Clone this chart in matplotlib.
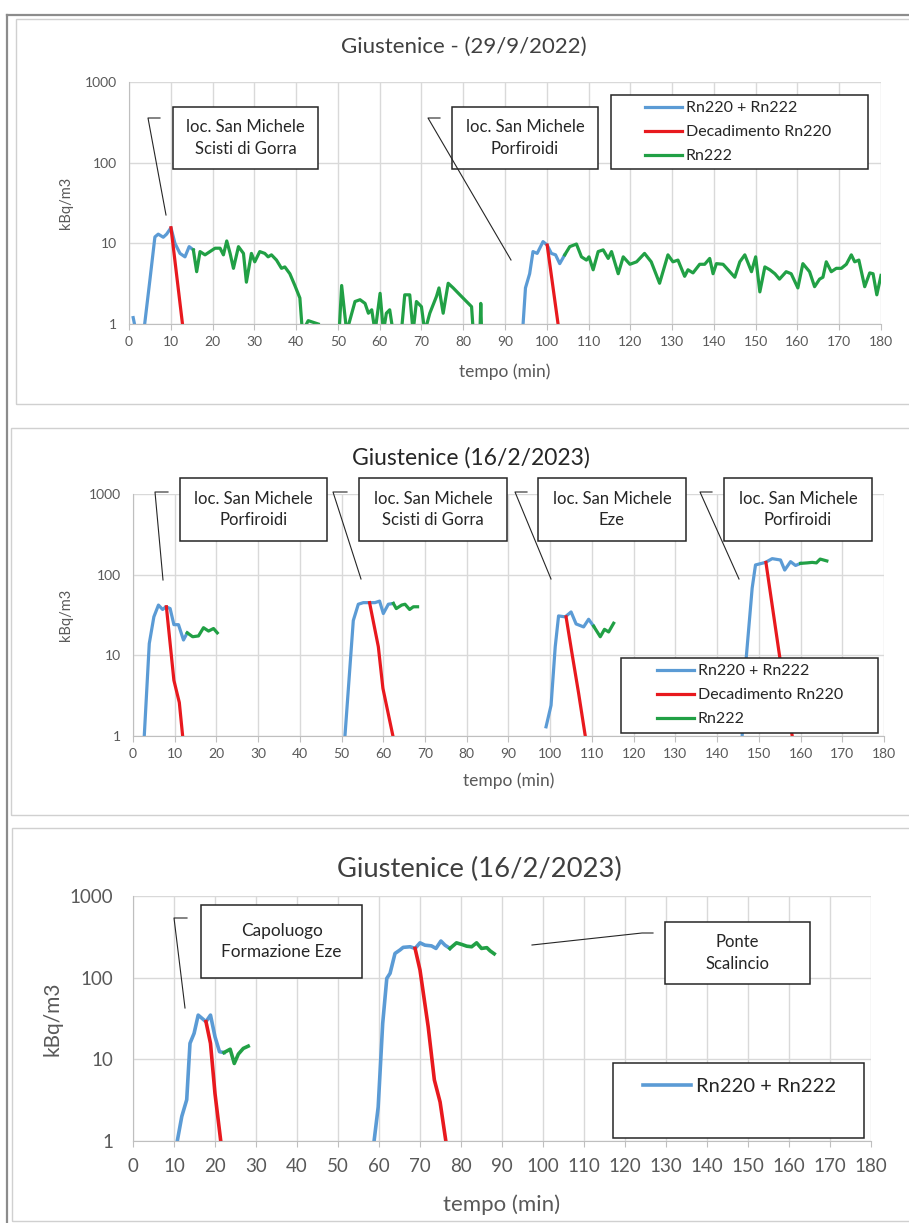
import matplotlib
matplotlib.use("Agg")
import matplotlib.pyplot as plt
from matplotlib.lines import Line2D
from matplotlib.patches import Rectangle
from matplotlib.ticker import FixedLocator, NullLocator
import numpy as np

nan = np.nan

# --- Giustenice 29/9/2022 ---
p1_mix_t = [1.0, 1.4, nan, 3.7, 5.0, 6.2, 7.0, 8.2, 9.0, 10.05, 11.0, 12.2, 13.4, 14.4, 15.4,
            nan, 94.3, 94.9, 95.9, 96.7, 97.7, 99.1, 100.1, 101.1, 102.1, 103.1, 104.3]
p1_mix_v = [1.2, 0.95, nan, 0.95, 3.5, 12, 13, 11.9, 13, 15.6, 10, 7.5, 6.8, 9.1, 8.3,
            nan, 0.95, 2.8, 4.2, 7.9, 7.5, 10.5, 9.5, 7.5, 7.2, 5.6, 7.2]
p1_decay_t = [10.05, 12.8, nan, 100.1, 102.7]
p1_decay_v = [15.6, 1.0, nan, 9.5, 1.0]
p1_rn222_t = [15.4, 16.2, 17.0, 18.2, 19.4, 20.6, 21.8, 22.6, 23.4, 24.2, 25.0, 26.2, 27.4, 28.1,
              29.3, 30.1, 31.3, 32.5, 33.3, 34.1, 35.3, 36.5, 37.3, 38.5, 39.7, 40.9, 41.5, 42.9,
              45.3, nan, 50.3, 50.9, 52.1, 54.1, 55.3, 56.5, 57.3, 58.1, 58.9, 60.1, 60.9, 61.6,
              62.4, 63.2, nan, 65.2, 66.0, 67.2, 68.0, 68.8, 70.0, 70.8, 72.0, 73.6, 74.2, 75.2,
              76.4, 77.6, 79.2, 80.8, 82.0, 82.4, nan, 84.0, 84.2, 84.4, nan,
              104.3, 105.5, 107.1, 108.3, 109.5, 110.1, 111.1, 112.3, 113.5, 114.7, 115.5, 117.1,
              118.3, 119.9, 121.5, 123.4, 125.0, 127.0, 129.0, 130.2, 131.4, 133.0, 133.8, 135.0,
              136.6, 137.8, 139.0, 139.8, 140.6, 142.2, 143.4, 145.0, 146.2, 147.4, 149.0, 150.0,
              151.0, 152.2, 153.4, 154.6, 155.7, 157.3, 158.5, 160.1, 161.3, 162.9, 164.1, 165.3,
              166.1, 166.9, 168.1, 169.3, 170.5, 171.7, 172.9, 173.7, 174.7, 176.1, 177.3, 178.1,
              179.0, 180.0]
p1_rn222_v = [8.3, 4.45, 7.9, 7.2, 7.9, 8.7, 8.7, 7.2, 10.7, 7.5, 4.9, 9.1, 7.5, 3.3,
              7.5, 5.9, 7.9, 7.5, 6.8, 7.2, 6.2, 4.9, 5.1, 4.2, 3.0, 2.1, 0.8, 1.1,
              1.0, nan, 0.8, 3.0, 0.8, 1.9, 2.0, 1.8, 1.36, 1.5, 0.8, 2.4, 0.8, 1.36,
              1.5, 0.8, nan, 0.8, 2.3, 2.3, 0.8, 1.9, 1.64, 0.8, 1.36, 2.2, 2.8, 1.36,
              3.2, 2.8, 2.3, 1.9, 1.64, 0.8, nan, 0.8, 1.8, 0.8, nan,
              7.2, 9.1, 9.8, 6.8, 6.2, 6.8, 4.7, 7.9, 8.3, 6.5, 7.9, 4.2,
              6.8, 5.5, 5.9, 7.5, 5.9, 3.2, 7.2, 5.9, 6.2, 3.9, 4.7, 4.3,
              5.5, 5.5, 6.5, 4.2, 5.6, 5.5, 4.7, 3.8, 5.9, 7.2, 4.45, 6.8,
              2.5, 5.1, 4.7, 4.2, 3.6, 4.45, 4.2, 2.8, 5.6, 4.45, 2.9, 3.6,
              3.8, 5.9, 4.45, 4.9, 4.9, 5.5, 7.2, 5.9, 6.2, 2.9, 4.3, 4.2,
              2.3, 4.0]

# --- Giustenice 16/2/2023, San Michele ---
p2_mix_t = [2.7, 3.9, 5.0, 6.1, 7.1, 7.9, 8.9, 9.8, 10.9, 12.1, 13.0, nan,
            50.8, 52.8, 54.0, 55.2, 56.7, 58.0, 59.1, 60.0, 61.2, 62.4, nan,
            99.0, 100.2, 101.2, 102.0, 103.6, 105.0, 106.2, 108.0, 109.2, 110.4, nan,
            146.0, 147.0, 148.4, 149.2, 151.6, 153.2, 155.2, 156.2, 157.6, 158.8, 160.0]
p2_mix_v = [1.0, 14, 30, 42, 37, 40, 38, 24, 24, 15.5, 19, nan,
            1.0, 27, 43, 45, 45, 45, 47, 33, 43, 44, nan,
            1.3, 2.4, 12.8, 30.8, 30, 34.5, 24.5, 22.5, 28, 23, nan,
            1.0, 9.6, 68, 132, 142, 158, 152, 114, 145, 130, 138]
p2_decay_t = [8.0, 9.8, 11.1, 11.9, nan, 56.7, 58.8, 59.9, 62.3, nan,
              103.8, 105.2, 106.8, 108.4, nan, 151.7, 155.0, 158.0]
p2_decay_v = [40, 4.9, 2.6, 1.0, nan, 45, 12.8, 3.9, 1.0, nan,
              30, 10.7, 3.4, 1.0, nan, 142, 9.6, 1.0]
p2_rn222_t = [13.0, 14.3, 15.7, 16.9, 18.1, 19.3, 20.2, nan,
              62.4, 63.1, 64.4, 65.2, 66.3, 67.2, 68.2, nan,
              110.4, 112.0, 113.0, 114.0, 115.2, nan,
              160.0, 161.6, 162.8, 163.8, 164.7, 165.5, 166.3]
p2_rn222_v = [19, 17, 17.4, 22, 20, 21.5, 19, nan,
              44, 38, 42, 43, 37, 40, 40, nan,
              23, 17, 21, 19.5, 25, nan,
              138, 140, 142, 140, 156, 152, 148]

# --- Giustenice 16/2/2023, Capoluogo / Ponte Scalincio ---
p3_mix_t = [10.8, 11.9, 13.1, 13.9, 14.9, 15.9, 17.8, 18.9, 20.0, 21.1, 22.2, nan,
            58.8, 59.8, 60.9, 61.9, 62.7, 63.9, 65.1, 65.9, 67.6, 68.8, 70.0, 71.2,
            72.8, 73.9, 75.1, 76.1, 77.3]
p3_mix_v = [1.0, 2.0, 3.2, 15.7, 20.8, 34.8, 28.9, 34.8, 18.9, 12.4, 12.1, nan,
            1.0, 2.6, 27.5, 98, 113, 198, 218, 235, 239, 228, 267, 250,
            245, 228, 281, 250, 228]
p3_decay_t = [17.8, 18.9, 20.0, 21.4, nan, 68.8, 70.0, 72.0, 73.5, 74.9, 76.3]
p3_decay_v = [28.9, 15.7, 3.8, 1.0, nan, 228, 124, 25, 5.6, 3.0, 1.0]
p3_rn222_t = [22.2, 23.7, 24.7, 25.7, 26.9, 28.1, nan,
              77.3, 78.9, 80.2, 81.4, 82.6, 83.8, 85.0, 86.3, 87.1, 88.1]
p3_rn222_v = [12.1, 13.3, 8.9, 11.6, 13.6, 14.5, nan,
              228, 267, 255, 243, 239, 267, 228, 233, 213, 196]

x_ticks = list(range(0, 181, 10))
y_ticks = [1, 10, 100, 1000]
series_names = ["Rn220 + Rn222", "Decadimento Rn220", "Rn222"]

BLUE = "#5B9BD5"
RED = "#E8191E"
GREEN = "#21A045"
GRID = "#D9D9D9"
TXT = "#595959"

W, H = 909, 1223


def fx(px):
    return px / W


def fy(py):
    return 1 - py / H


plt.rcParams["font.family"] = ["Lato", "DejaVu Sans"]

fig = plt.figure(figsize=(W / 100, H / 100), dpi=100, facecolor="white")

# outer frame and panel borders
fig.add_artist(Line2D([fx(7), fx(7)], [fy(15), fy(1223)], color="#8C8C8C", lw=1.6))
fig.add_artist(Line2D([fx(7), fx(909)], [fy(15), fy(15)], color="#8C8C8C", lw=1.6))
for l, t, b in [(16, 19, 404), (11, 428, 815), (12, 828, 1221)]:
    fig.add_artist(Rectangle((fx(l), fy(b)), fx(915 - l), (b - t) / H, transform=fig.transFigure,
                             fill=False, ec="#D0D0D0", lw=1))


def make_axes(left, top, right, bottom, tick_size, tick_pad):
    ax = fig.add_axes([fx(left), fy(bottom), (right - left) / W, (bottom - top) / H])
    ax.set_yscale("log")
    ax.set_xlim(0, 180)
    ax.set_ylim(1, 1000)
    ax.xaxis.set_major_locator(FixedLocator(x_ticks))
    ax.yaxis.set_major_locator(FixedLocator(y_ticks))
    ax.yaxis.set_minor_locator(NullLocator())
    ax.set_yticklabels([str(v) for v in y_ticks])
    ax.grid(True, color=GRID, lw=1)
    ax.set_axisbelow(True)
    for s in ("top", "right"):
        ax.spines[s].set_visible(False)
    for s in ("left", "bottom"):
        ax.spines[s].set_color("#BFBFBF")
    ax.tick_params(axis="x", length=4, color="#BFBFBF", pad=tick_pad[0],
                   labelsize=tick_size, labelcolor=TXT)
    ax.tick_params(axis="y", length=0, pad=tick_pad[1], labelsize=tick_size, labelcolor=TXT)
    return ax


def draw_series(ax, mix, decay, rn222, lw=2.3):
    h1, = ax.plot(*mix, color=BLUE, lw=lw, solid_joinstyle="round")
    h2, = ax.plot(*decay, color=RED, lw=lw, solid_joinstyle="round")
    h3, = ax.plot(*rn222, color=GREEN, lw=lw, solid_joinstyle="round")
    return [h1, h2, h3]


def note_box(l, t, r, b, text, size):
    fig.add_artist(Rectangle((fx(l), fy(b)), (r - l) / W, (b - t) / H, transform=fig.transFigure,
                             fc="white", ec="#262626", lw=1.1, zorder=5))
    fig.text(fx((l + r) / 2), fy((t + b) / 2), text, ha="center", va="center", fontsize=size,
             color="#262626", linespacing=1.4, zorder=6)


def callout(points):
    xs = [fx(p[0]) for p in points]
    ys = [fy(p[1]) for p in points]
    fig.add_artist(Line2D(xs, ys, color="#262626", lw=0.8, zorder=5))


def legend_box(l, t, r, b, handles, labels, size, hx, hy, hlen, spacing):
    fig.add_artist(Rectangle((fx(l), fy(b)), (r - l) / W, (b - t) / H, transform=fig.transFigure,
                             fc="white", ec="#262626", lw=1.1, zorder=5))
    leg = fig.legend(handles, labels, loc="upper left", bbox_to_anchor=(fx(hx), fy(hy)),
                     frameon=False, borderpad=0, borderaxespad=0, handlelength=hlen,
                     handletextpad=0.25, labelspacing=spacing, fontsize=size)
    leg.set_zorder(6)
    for t in leg.get_texts():
        t.set_color("#262626")


# panel 1
ax1 = make_axes(129, 82, 881, 324, 10, (5, 9))
h = draw_series(ax1, (p1_mix_t, p1_mix_v), (p1_decay_t, p1_decay_v), (p1_rn222_t, p1_rn222_v))
fig.text(fx(464), fy(47), "Giustenice - (29/9/2022)", ha="center", va="center", fontsize=16, color="#404040")
ax1.set_ylabel("kBq/m3", fontsize=10.5, color=TXT, va="center")
ax1.yaxis.set_label_coords((66 - 129) / 752, 0.5)
ax1.set_xlabel("tempo (min)", fontsize=12.5, color=TXT, va="center")
ax1.xaxis.set_label_coords(0.5, -(372 - 324) / 242)
note_box(173, 107, 318, 169, "loc. San Michele\nScisti di Gorra", 12)
callout([(160, 118), (148, 118), (166, 215)])
note_box(452, 107, 598, 169, "loc. San Michele\nPorfiroidi", 12)
callout([(440, 118), (428, 118), (511, 260)])
legend_box(611, 95, 868, 169, h, series_names, 11.5, 645, 101, 2.3, 0.62)

# panel 2
ax2 = make_axes(133, 494, 884, 736, 10, (5, 9))
h = draw_series(ax2, (p2_mix_t, p2_mix_v), (p2_decay_t, p2_decay_v), (p2_rn222_t, p2_rn222_v))
fig.text(fx(471), fy(458), "Giustenice (16/2/2023)", ha="center", va="center", fontsize=16.5, color="#262626")
ax2.set_ylabel("kBq/m3", fontsize=10.5, color=TXT, va="center")
ax2.yaxis.set_label_coords((66 - 133) / 751, 0.5)
ax2.set_xlabel("tempo (min)", fontsize=12.5, color=TXT, va="center")
ax2.xaxis.set_label_coords(0.5, -(781 - 736) / 242)
note_box(180, 478, 327, 541, "loc. San Michele\nPorfiroidi", 12)
callout([(168, 492), (155, 492), (163, 580)])
note_box(359, 478, 507, 541, "loc. San Michele\nScisti di Gorra", 12)
callout([(347, 492), (333, 492), (361, 579)])
note_box(538, 478, 686, 541, "loc. San Michele\nEze", 12)
callout([(527, 492), (515, 492), (551, 579)])
note_box(724, 478, 872, 541, "loc. San Michele\nPorfiroidi", 12)
callout([(712, 492), (700, 492), (739, 579)])
legend_box(621, 658, 878, 733, h, series_names, 11.5, 657, 664, 2.3, 0.62)

# panel 3
ax3 = make_axes(133, 896, 871, 1141, 13.5, (8, 14))
h = draw_series(ax3, (p3_mix_t, p3_mix_v), (p3_decay_t, p3_decay_v), (p3_rn222_t, p3_rn222_v), lw=2.6)
fig.text(fx(479), fy(869), "Giustenice (16/2/2023)", ha="center", va="center", fontsize=19.7, color="#404040")
ax3.set_ylabel("kBq/m3", fontsize=15, color=TXT, va="center")
ax3.yaxis.set_label_coords((52 - 133) / 738, 0.5)
ax3.set_xlabel("tempo (min)", fontsize=16, color=TXT, va="center")
ax3.xaxis.set_label_coords(0.5, -(1205 - 1141) / 245)
note_box(201, 905, 362, 978, "Capoluogo\nFormazione Eze", 12.4)
callout([(187, 918), (174, 918), (185, 1008)])
note_box(665, 922, 810, 984, "Ponte\nScalincio", 12)
callout([(532, 945), (642, 933), (653, 933)])
legend_box(613, 1063, 864, 1138, h[:1], series_names[:1], 14.5, 643, 1078, 2.4, 0.3)

fig.savefig("out.png", dpi=100, facecolor="white")
